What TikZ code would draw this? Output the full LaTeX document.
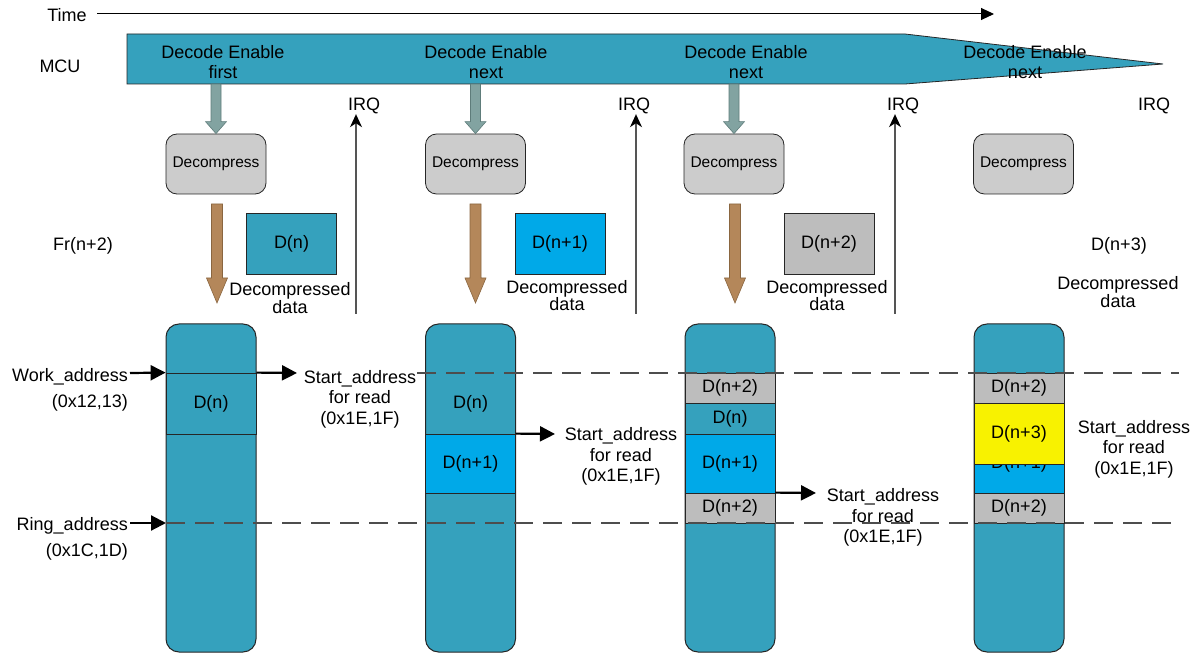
\documentclass[tikz,border=0pt]{standalone}
\usepackage{fontspec}
\setmainfont{Liberation Sans}
\usetikzlibrary{arrows.meta,calc}
\definecolor{teal1}{HTML}{35A1BD}
\definecolor{cyan1}{HTML}{00A9E8}
\definecolor{grey1}{HTML}{BDBDBD}
\definecolor{grey2}{HTML}{CCCCCC}
\definecolor{yel1}{HTML}{F8F200}
\definecolor{brown1}{HTML}{B4875A}
\definecolor{brownedge}{HTML}{8A6640}
\definecolor{garrow}{HTML}{82A3A1}
\definecolor{garrowedge}{HTML}{5E7C7A}
\definecolor{edge}{HTML}{262626}
\definecolor{darkgrey}{HTML}{555555}
\definecolor{dashgrey}{HTML}{4D4D4D}
% #1 start, #2 tip, #3 head length, #4 shaft half width, #5 head half width, #6 fill, #7 edge
\newcommand{\fatarr}[7]{%
  \filldraw[fill=#6, draw=#7, line width=0.6pt] let \p1=(#1), \p2=(#2) in
    (\x1-#4pt,\y1) -- (\x1+#4pt,\y1) -- (\x1+#4pt,\y2+#3pt) -- (\x1+#5pt,\y2+#3pt)
    -- (\x1,\y2) -- (\x1-#5pt,\y2+#3pt) -- (\x1-#4pt,\y2+#3pt) -- cycle;}
\begin{document}
\begin{tikzpicture}[x=1pt,y=-1pt,
  txt/.style={inner sep=0pt, text=black, font=\fontsize{18}{20.5}\selectfont, align=center},
  ddtxt/.style={inner sep=0pt, text=black, font=\fontsize{18}{14}\selectfont, align=center},
  bantxt/.style={inner sep=0pt, text=black, font=\fontsize{18}{19.5}\selectfont, align=center},
  addrtxt/.style={inner sep=0pt, text=black, font=\fontsize{18}{26}\selectfont, align=right, anchor=east},
  decbox/.style={draw=edge, fill=grey2, rounded corners=11pt, minimum width=100pt, minimum height=60pt, inner sep=0pt, font=\fontsize{15.5}{18}\selectfont, line width=0.8pt},
  dbox/.style={draw=edge, line width=0.8pt, minimum width=90pt, minimum height=61pt, inner sep=0pt, font=\fontsize{18}{20}\selectfont},
  memcol/.style={draw=edge, fill=teal1, rounded corners=13pt, minimum width=90pt, minimum height=328pt, inner sep=0pt, line width=1pt},
  seg/.style={draw=edge, line width=0.8pt, minimum width=90pt, inner sep=0pt, font=\fontsize{18}{20}\selectfont},
  bigarrow/.style={line width=2.2pt, -{Triangle[length=15pt,width=15pt]}},
  irqarrow/.style={draw=darkgrey, line width=1.3pt, -{Stealth[length=13pt,width=12pt,inset=4pt,color=black]}},
  dashln/.style={draw=dashgrey, line width=1.3pt, dash pattern=on 19pt off 10pt},
]
\useasboundingbox (0,0) rectangle (1195,655);

% ---- time axis
\node[txt] (time) at (67,15) {Time};
\coordinate (tstart) at (97,14);
\coordinate (tend) at (994,14);
\draw[line width=1pt, -{Triangle[length=13pt,width=12pt]}] (tstart) -- (tend);

% ---- MCU banner
\node[txt] (mcu) at (60,66) {MCU};
\filldraw[fill=teal1, draw=edge, line width=0.8pt]
  (127,34) -- (905,34) -- (1163,64) -- (905,84) -- (127,84) -- cycle;
\node[bantxt] (be1) at (223,62) {Decode Enable\\first};
\node[bantxt] (be2) at (486,62) {Decode Enable\\next};
\node[bantxt] (be3) at (746,62) {Decode Enable\\next};
\node[bantxt] (be4) at (1025,62) {Decode Enable\\next};

% ---- decompress boxes
\node[decbox] (dec1) at (216,164) {Decompress};
\node[decbox] (dec2) at (475.5,164) {Decompress};
\node[decbox] (dec3) at (734,164) {Decompress};
\node[decbox] (dec4) at (1023.5,164) {Decompress};

% ---- grey arrows from banner
\coordinate (g1) at (216,84);
\coordinate (g2) at (475.5,84);
\coordinate (g3) at (734,84);
\fatarr{g1}{dec1.north}{12}{5}{10.5}{garrow}{garrowedge}
\fatarr{g2}{dec2.north}{12}{5}{10.5}{garrow}{garrowedge}
\fatarr{g3}{dec3.north}{12}{5}{10.5}{garrow}{garrowedge}

% ---- brown arrows
\coordinate (b1s) at (217,204);   \coordinate (b1e) at (217,303);
\coordinate (b2s) at (475.5,204); \coordinate (b2e) at (475.5,303);
\coordinate (b3s) at (735,204);   \coordinate (b3e) at (735,303);
\fatarr{b1s}{b1e}{25}{5.5}{10.5}{brown1}{brownedge}
\fatarr{b2s}{b2e}{25}{5.5}{10.5}{brown1}{brownedge}
\fatarr{b3s}{b3e}{25}{5.5}{10.5}{brown1}{brownedge}

% ---- decompressed data boxes
\node[txt] (fr) at (83,246) {Fr(n+2)};
\node[dbox, fill=teal1] (dd1) at (291.5,243.5) {D(n)};
\node[dbox, fill=cyan1] (dd2) at (560,243.5) {D(n+1)};
\node[dbox, fill=grey1] (dd3) at (829,243.5) {D(n+2)};
\node[txt] (dd4) at (1119,246) {D(n+3)};
\node[ddtxt] (dl1) at (290,298) {Decompressed\\data};
\node[ddtxt] (dl2) at (567,295.5) {Decompressed\\data};
\node[ddtxt] (dl3) at (827,295.5) {Decompressed\\data};
\node[ddtxt] (dl4) at (1118,292) {Decompressed\\data};

% ---- IRQ
\node[txt] (irq1) at (364,106) {IRQ};
\node[txt] (irq2) at (634,106) {IRQ};
\node[txt] (irq3) at (903,106) {IRQ};
\node[txt] (irq4) at (1154,106) {IRQ};
\coordinate (i1) at (356,314);
\coordinate (i2) at (636,314);
\coordinate (i3) at (895,314);
\draw[irqarrow] (i1) -- (i1 |- irq1.south);
\draw[irqarrow] (i2) -- (i2 |- irq2.south);
\draw[irqarrow] (i3) -- (i3 |- irq3.south);

% ---- memory columns
\node[memcol] (m1) at (211,488) {};
\node[memcol] (m2) at (470.5,488) {};
\node[memcol] (m3) at (730,488) {};
\node[memcol] (m4) at (1019,488) {};

% column 1
\node[seg, fill=teal1, minimum height=61pt] (m1a) at (211,403.5) {D(n)};
% column 2
\node[txt] (m2a) at (470.5,403.5) {D(n)};
\node[seg, fill=cyan1, minimum height=59pt] (m2b) at (470.5,463.5) {D(n+1)};
% column 3
\node[seg, fill=grey1, minimum height=30pt] (m3a) at (730,388) {D(n+2)};
\node[seg, fill=teal1, minimum height=31pt] (m3b) at (730,418.5) {D(n)};
\node[seg, fill=cyan1, minimum height=59pt] (m3c) at (730,463.5) {D(n+1)};
\node[seg, fill=grey1, minimum height=30pt] (m3d) at (730,508) {D(n+2)};
% column 4
\node[seg, fill=grey1, minimum height=30pt] (m4a) at (1019,388) {D(n+2)};
\node[seg, fill=cyan1, minimum height=59pt] (m4c) at (1019,463.5) {D(n+1)};
\node[seg, fill=yel1, minimum height=61pt] (m4b) at (1019,433.5) {D(n+3)};
\node[seg, fill=grey1, minimum height=30pt] (m4d) at (1019,508) {D(n+2)};

% ---- dashed reference lines
\coordinate (wd0) at (417,373);
\coordinate (wd1) at (1179,373);
\coordinate (rd1) at (1179,523);
\coordinate (rd0) at (166,523);
\draw[dashln] (wd0) -- (wd1);
\draw[dashln] (rd0) -- (rd1);

% ---- address labels
\node[addrtxt] (work) at (128,390) {Work\_address\\(0x12,13)};
\node[addrtxt] (ring) at (128,538.5) {Ring\_address\\(0x1C,1D)};
\coordinate (wa) at (130,373);
\coordinate (ra) at (130,523);
\draw[bigarrow] (wa) -- (m1a.north west);
\draw[bigarrow] (ra) -- (rd0);

% ---- start address labels
\node[txt] (sa1) at (360,399) {Start\_address\\for read\\(0x1E,1F)};
\node[txt] (sa2) at (621,456.8) {Start\_address\\for read\\(0x1E,1F)};
\node[txt] (sa3) at (883,517.5) {Start\_address\\for read\\(0x1E,1F)};
\node[txt] (sa4) at (1134,449) {Start\_address\\for read\\(0x1E,1F)};
\coordinate (s1) at (297,373);
\coordinate (s2) at (555,434);
\coordinate (s3) at (816,493);
\draw[bigarrow] (m1a.north east) -- (s1);
\draw[bigarrow] (m2b.north east) -- (s2);
\draw[bigarrow] (m3d.north east) -- (s3);
\end{tikzpicture}
\end{document}
